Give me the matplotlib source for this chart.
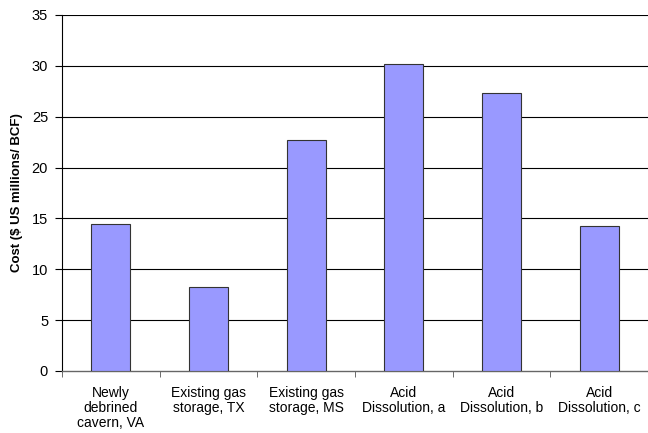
import matplotlib.pyplot as plt

plt.rcParams["font.family"] = ["Liberation Sans", "DejaVu Sans"]

# Storage cost by site / method
categories = [
    "Newly\ndebrined\ncavern, VA",
    "Existing gas\nstorage, TX",
    "Existing gas\nstorage, MS",
    "Acid\nDissolution, a",
    "Acid\nDissolution, b",
    "Acid\nDissolution, c",
]
costs = [14.5, 8.3, 22.7, 30.2, 27.3, 14.3]
y_ticks = [0, 5, 10, 15, 20, 25, 30, 35]

fig = plt.figure(figsize=(6.48, 4.33), dpi=100)
ax = fig.add_axes([0.0957, 0.1432, 0.9043, 0.8222])

x = range(len(categories))
ax.bar(x, costs, width=0.4, color="#9999FF", edgecolor="#333333",
       linewidth=0.8, zorder=3)

# horizontal gridlines
for t in y_ticks[1:]:
    ax.axhline(t, color="black", linewidth=0.8, zorder=1)

ax.set_xlim(-0.5, len(categories) - 0.5)
ax.set_ylim(0, 35)
ax.set_yticks(y_ticks)
ax.set_yticklabels([str(t) for t in y_ticks], fontsize=10.5)

# category labels centred, ticks on category boundaries
ax.set_xticks(list(x))
ax.set_xticklabels(categories, fontsize=10, linespacing=1.08)
ax.tick_params(axis="x", length=0, pad=11)
ax.set_xticks([i - 0.5 for i in range(len(categories) + 1)], minor=True)
ax.tick_params(axis="x", which="minor", length=4, direction="out",
               color="#555555")
ax.tick_params(axis="y", length=5, direction="out", pad=5)

ax.set_ylabel("Cost ($ US millions/ BCF)", fontsize=9.5, fontweight="bold",
              labelpad=6)

for side in ["top", "right"]:
    ax.spines[side].set_visible(False)
ax.spines["left"].set_color("black")
ax.spines["bottom"].set_color("#666666")
ax.spines["bottom"].set_linewidth(1.0)

fig.savefig("out.png", dpi=100)
